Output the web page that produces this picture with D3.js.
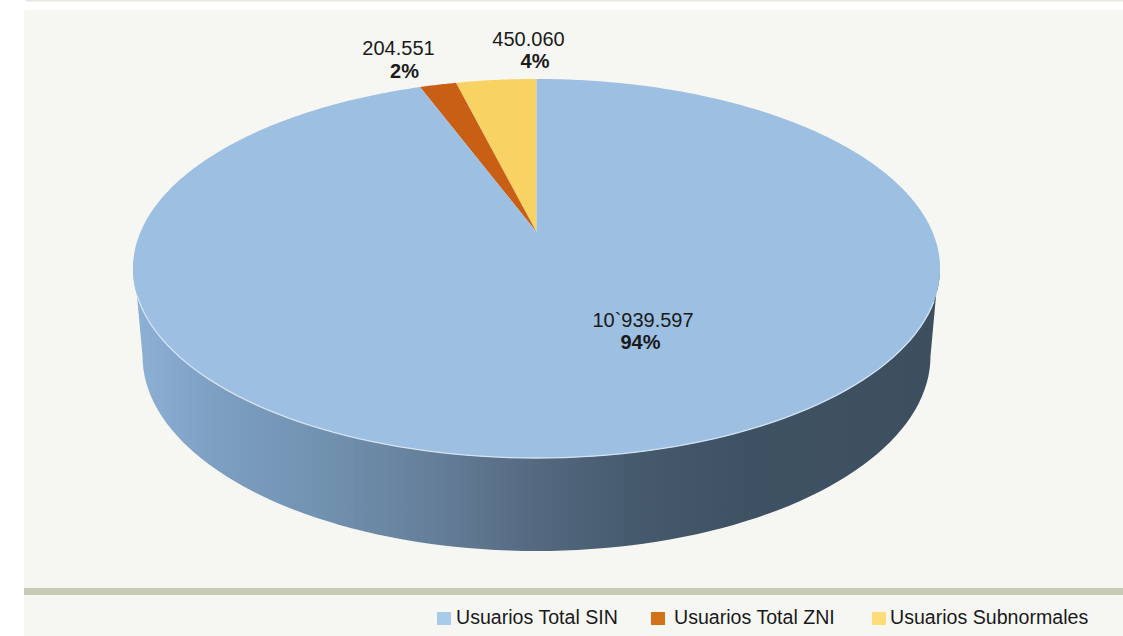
<!DOCTYPE html>
<html><head><meta charset="utf-8">
<script src="https://cdn.jsdelivr.net/npm/d3@7"></script>
<style>html,body{margin:0;padding:0;background:#fff;overflow:hidden}svg{display:block}
text{font-family:"Liberation Sans",Arial,sans-serif;fill:#1a1a1a}</style></head>
<body><svg id="c" width="1123" height="636"></svg>
<script>
const categories = ["Usuarios Total SIN", "Usuarios Total ZNI", "Usuarios Subnormales"];
const values = [10939597, 204551, 450060];
const valueLabels = ["10`939.597", "204.551", "450.060"];
const pctLabels = ["94%", "2%", "4%"];
const colors = ["#9cbfe2", "#c95f14", "#f8d263"];
const legendColors = ["#a9cbea", "#d27117", "#fedd78"];

const svg = d3.select("#c");
svg.append("rect").attr("x",26).attr("y",0).attr("width",1097).attr("height",1.5).attr("fill","#e6e7dc");
svg.append("rect").attr("x",24).attr("y",10).attr("width",1099).attr("height",626).attr("fill","#f6f7f3");
svg.append("rect").attr("x",24).attr("y",588).attr("width",1099).attr("height",7).attr("fill","#c8cab5");

// perspective disc: apex is the projected pie centre
const apex = {x:536.5, y:232}, A = 396, B = 182.5, P = 0.1926;
const project = a => {
  const d = 1 + P*Math.cos(a);
  return [apex.x + A*Math.sin(a)/d, apex.y - B*Math.cos(a)/d];
};
// slices run counter-clockwise from 12 o'clock: Subnormales, ZNI, SIN
const arcsData = d3.pie().sort(null).startAngle(0).endAngle(2*Math.PI)
  .value(d => d)(values.slice().reverse());
const line = d3.line();

const grad = svg.append("defs").append("linearGradient").attr("id","side")
  .attr("gradientUnits","userSpaceOnUse").attr("x1",133).attr("x2",940).attr("y1",0).attr("y2",0);
[[0,"#8eb1d6"],[0.1,"#7d9fc2"],[0.25,"#7090ae"],[0.4,"#627a94"],[0.5,"#546980"],[0.62,"#465a6e"],[0.75,"#3f5263"],[1,"#3d4f5f"]]
  .forEach(([o,c]) => grad.append("stop").attr("offset",o).attr("stop-color",c));

// side wall: lower half of top rim down to lower rim
const low = {cx:536.5, cy:356, rx:394, ry:195};
const topE = {cx:536.5, cy:268.5, rx:403.5, ry:189.5};
const rimPoint = (e, deg) => {
  const r = deg*Math.PI/180;
  return [e.cx + e.rx*Math.cos(r), e.cy + e.ry*Math.sin(r)];
};
const lowerPts = d3.range(0, 180.01, 2).map(t => rimPoint(low, t));
const upperPts = d3.range(180, -0.01, -2).map(t => rimPoint(topE, t));
svg.append("path").attr("fill","url(#side)")
  .attr("d", line([[936,296], ...lowerPts, [137,296], ...upperPts]) + "Z");

// top faces
arcsData.forEach((d, k) => {
  const steps = Math.max(4, Math.ceil((d.endAngle-d.startAngle)*90));
  const pts = d3.range(steps+1).map(i => project(-(d.startAngle + (d.endAngle-d.startAngle)*i/steps)));
  svg.append("path").attr("fill", colors[values.length-1-k])
    .attr("d", line([[apex.x,apex.y], ...pts]) + "Z");
});
// pale rim highlight along the front
svg.append("path").attr("fill","none").attr("stroke","#d3e3f3").attr("stroke-width",1.3)
  .attr("d",line(d3.range(172, 8, -2).map(t => rimPoint(topE, t))));

// data labels
const labelPos = [[643,327],[398.5,55],[528.5,46]];
const pctOffset = [[-2.5,22],[6,23],[6.5,22]];
labelPos.forEach(([x,y],i) => {
  const g = svg.append("g").attr("text-anchor","middle").attr("font-size",20);
  g.append("text").attr("x",x).attr("y",y).text(valueLabels[i]);
  g.append("text").attr("x",x+pctOffset[i][0]).attr("y",y+pctOffset[i][1]).attr("font-weight","bold").text(pctLabels[i]);
});

// legend
const legendX = [437,651,872], textX = [456,674,890];
categories.forEach((c,i) => {
  svg.append("rect").attr("x",legendX[i]).attr("y",612).attr("width",14).attr("height",13).attr("fill",legendColors[i]);
  svg.append("text").attr("x",textX[i]).attr("y",624).attr("font-size",19.6).text(c);
});
</script></body></html>
